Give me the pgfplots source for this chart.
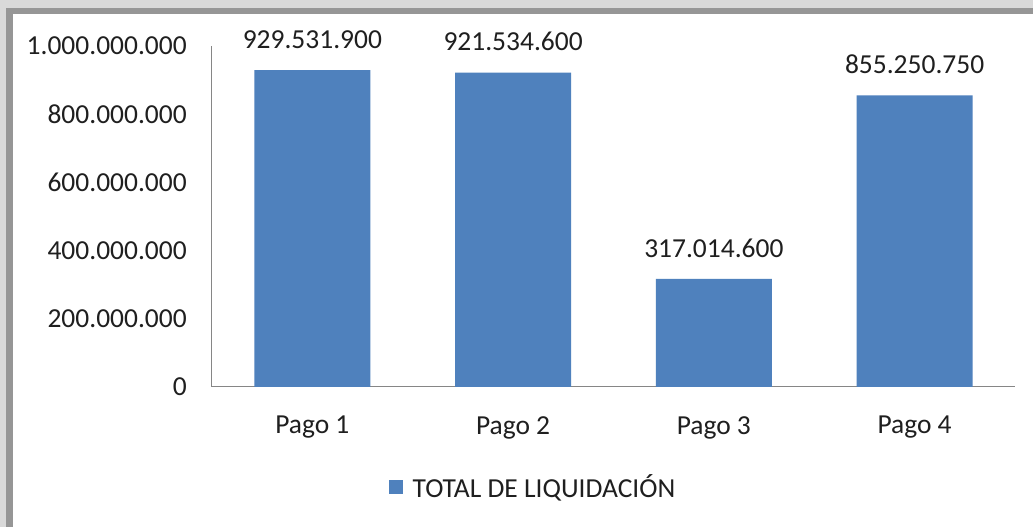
\documentclass[border=0pt]{standalone}
\usepackage{pgfplots}
\pgfplotsset{compat=1.18}
\usepackage{pgfplotstable}
\usepackage{fontspec}
\setmainfont{Carlito}
\definecolor{barblue}{HTML}{4F81BD}
\definecolor{axgray}{HTML}{868686}
\definecolor{txt}{HTML}{1F1F1F}
\definecolor{frlight}{HTML}{D9D9D9}
\definecolor{frdark}{HTML}{969696}
\pgfplotstableread{
x y label
0 929531900 929.531.900
1 921534600 921.534.600
2 317014600 317.014.600
3 855250750 855.250.750
}\datatable
\begin{document}
\begin{tikzpicture}[font=\fontsize{20.6}{24}\selectfont, text=txt]
% frame (1px = 0.75pt)
\fill[frlight] (0pt,0pt) rectangle (774.75pt,395.25pt);
\fill[frdark] (4.5pt,0pt) rectangle (774.75pt,389.25pt);
\fill[white] (9.5pt,0pt) rectangle (774.75pt,384.75pt);
\begin{axis}[
  at={(159pt,105pt)}, anchor=south west,
  scale only axis, width=602.25pt, height=255.75pt,
  xmin=-0.5, xmax=3.5, ymin=0, ymax=1000000000,
  axis x line=bottom, axis y line=left,
  axis line style={draw=axgray, line width=0.75pt, -},
  major tick length=0pt,
  xtick={0,1,2,3}, xticklabels={Pago 1,Pago 2,Pago 3,Pago 4},
  ytick={0,200000000,400000000,600000000,800000000,1000000000},
  yticklabels={0,200.000.000,400.000.000,600.000.000,800.000.000,1.000.000.000},
  scaled y ticks=false,
  yticklabel style={anchor=east, inner sep=0pt, xshift=-18.75pt},
  xticklabel style={anchor=north, inner sep=0pt, yshift=-21.75pt},
  nodes near coords style={anchor=south, inner sep=0pt, yshift=16pt},
  legend style={draw=none, fill=none, inner sep=0pt, nodes={inner sep=0pt},
    at={(0.3985,-0.293)}, anchor=center},
  legend image code/.code={\fill[barblue] (0pt,-5.25pt) rectangle (10.5pt,5.25pt); \path (18pt,0pt);},
  clip=false,
]
\addplot[ybar, fill=barblue, draw=none, bar width=0.578,
  nodes near coords, point meta=explicit symbolic]
  table[x=x, y=y, meta=label] {\datatable};
\addlegendentry{TOTAL DE LIQUIDACIÓN}
\end{axis}
\pgfresetboundingbox
\useasboundingbox (0pt,0pt) rectangle (774.75pt,395.25pt);
\end{tikzpicture}
\end{document}
